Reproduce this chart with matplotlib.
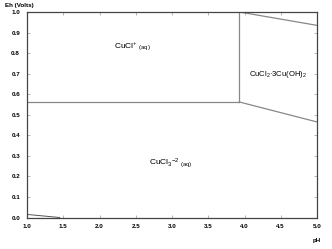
import matplotlib
matplotlib.use("Agg")
import matplotlib.pyplot as plt

plt.rcParams['font.family'] = ['Liberation Sans', 'DejaVu Sans']
plt.rcParams['mathtext.fontset'] = 'custom'
plt.rcParams['mathtext.rm'] = 'Liberation Sans'
plt.rcParams['mathtext.it'] = 'Liberation Sans'
plt.rcParams['mathtext.bf'] = 'Liberation Sans:bold'

# boundary lines (pH, Eh)
b1_ph = [1.0, 3.93]; b1_eh = [0.562, 0.562]
b2_ph = [3.93, 5.0]; b2_eh = [0.562, 0.465]
b3_ph = [3.93, 3.93]; b3_eh = [0.562, 1.0]
b4_ph = [3.93, 5.0]; b4_eh = [1.0, 0.935]
b5_ph = [1.0, 1.45]; b5_eh = [0.015, 0.0]

xticks = [1.0, 1.5, 2.0, 2.5, 3.0, 3.5, 4.0, 4.5, 5.0]
yticks = [0.0, 0.1, 0.2, 0.3, 0.4, 0.5, 0.6, 0.7, 0.8, 0.9, 1.0]

fig = plt.figure(figsize=(3.32, 2.49), dpi=100)
ax = fig.add_axes([27/332, 1 - 217.5/249, 290/332, 205.5/249])
lc = '#888888'
for xs, ys in [(b1_ph, b1_eh), (b2_ph, b2_eh), (b3_ph, b3_eh), (b4_ph, b4_eh)]:
    ax.plot(xs, ys, color=lc, lw=0.9)
ax.plot(b5_ph, b5_eh, color='#555555', lw=0.7)
ax.set_xlim(1.0, 5.0)
ax.set_ylim(0.0, 1.0)
ax.set_xticks(xticks)
ax.set_yticks(yticks)
ax.set_xticklabels([f"{v:.1f}" for v in xticks], fontsize=4.5, fontweight='bold')
ax.set_yticklabels([f"{v:.1f}" for v in yticks], fontsize=4.5, fontweight='bold')
ax.tick_params(direction='in', length=2, width=0.5, color='#999999', top=True, right=True, pad=5)
for s in ax.spines.values():
    s.set_color('#444444')
    s.set_linewidth(0.9)
ax.text(2.45, 0.83, r"CuCl$^{+}$ $_{\mathregular{(aq)}}$", fontsize=6, ha='center', va='center')
ax.text(2.98, 0.265, r"CuCl$_3$$^{-2}$ $_{\mathregular{(aq)}}$", fontsize=6, ha='center', va='center')
ax.text(4.46, 0.695, r"CuCl$_2$·3Cu(OH)$_2$", fontsize=5.5, ha='center', va='center')
fig.text(5/332, 1 - 5/249, "Eh (Volts)", fontsize=4.5, fontweight='bold', va='center', ha='left')
fig.text(317/332, 1 - 240/249, "pH", fontsize=4.5, fontweight='bold', va='center', ha='center')
fig.savefig("out.png", dpi=100)
